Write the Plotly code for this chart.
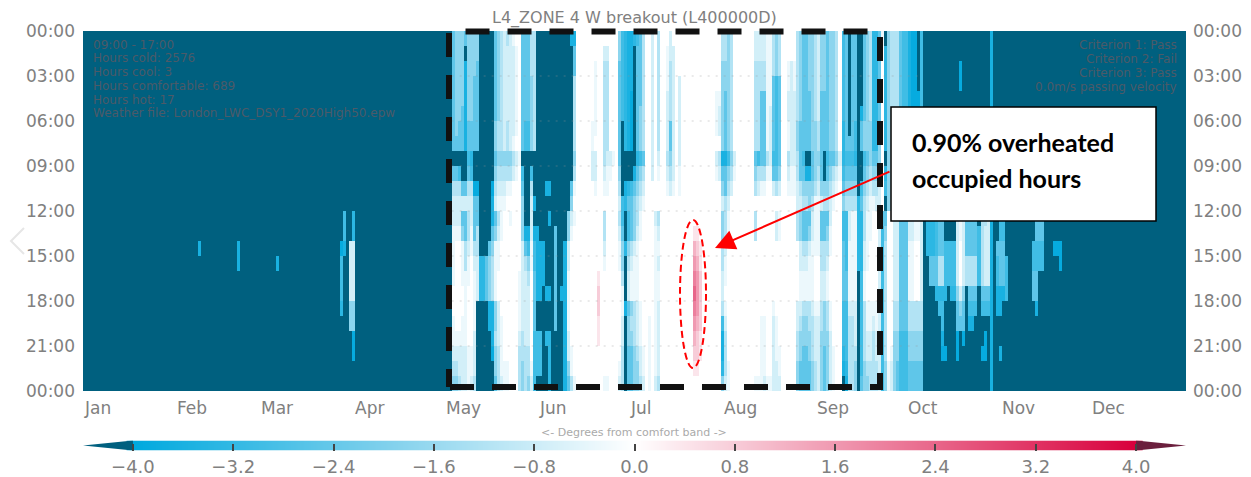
import plotly.graph_objects as go

W, H = 1251, 477
MONTHS = ["Jan","Feb","Mar","Apr","May","Jun","Jul","Aug","Sep","Oct","Nov","Dec"]
MONTH_START_DAY = [0,31,59,90,120,151,181,212,243,273,304,334]
HOUR_TICKS = [0,3,6,9,12,15,18,21,24]
HOUR_LABELS = ["00:00","03:00","06:00","09:00","12:00","15:00","18:00","21:00","00:00"]
BAR_TICKS = [-4.0,-3.2,-2.4,-1.6,-0.8,0.0,0.8,1.6,2.4,3.2,4.0]
LEFT_NOTE = ["09:00 - 17:00","Hours cold: 2576","Hours cool: 3","Hours comfortable: 689","Hours hot: 17","Weather file: London_LWC_DSY1_2020High50.epw"]
RIGHT_NOTE = ["Criterion 1: Pass","Criterion 2: Fail","Criterion 3: Pass","0.0m/s passing velocity"]

# Degrees from the comfort band, read per character (one char per hour)
LEVEL = {"0":0,"1":-.3,"2":-.7,"3":-1.2,"4":-1.8,"5":-2.5,"6":-3.0,"7":-3.3,"8":-3.6,"9":-3.9,"D":-4.5,
         "p":.4,"q":.8,"r":1.2,"s":1.6,"t":2.0,"u":2.4}
# (day of year from 0, hour string: 00-07 08-11 12-17 18-23); unlisted days are all "D"
COOL_SEASON = [
 (38,"DDDDDDDD DDDD DD8DDD DDDDDD"),(51,"DDDDDDDD DDDD DD88DD DDDDDD"),(64,"DDDDDDDD DDDD DDD8DD DDDDDD"),
 (85,"DDDDDDDD DDDD DD9666 7DDDDD"),(86,"DDDDDDDD DDDD 668DDD DDDDDD"),
 (88,"DDDDDDDD DDDD DD2222 44DDDD"),(89,"DDDDDDDD DDDD 772222 4499DD"),
]
MAY_COLUMNS = [
 (122,"55555555 D532 211110 011234"),(123,"44444445 D532 210000 001234"),(124,"44444455 D632 210000 001223"),
 (125,"44444555 DD52 541110 011222"),(126,"5D888888 DD52 553311 111222"),(127,"44444455 6532 332110 000111"),
 (128,"44444455 7632 211000 000112"),(129,"44455555 DD95 553211 112223"),(130,"44555555 DD95 533222 DDDDDD"),
 (131,"DDDDDDDD DDDD DDD777 DDDDDD"),(132,"DDDDDDDD DDDD DDD777 DDDDDD"),(133,"DDDDDDDD DDDD DDD555 DDDDDD"),
 (134,"DDDDDDDD DDDD DD5444 88DDDD"),(135,"DDDDDDDD DD98 854333 8889DD"),(136,"55555544 5432 541111 443445"),
 (137,"44444433 4321 321100 222333"),(138,"33333333 4321 110000 011112"),(139,"22222222 4321 000000 000011"),
 (140,"32222233 4310 000000 000011"),(141,"22222222 4310 100000 000000"),(142,"12222221 3200 000000 000000"),
 (143,"01111110 2100 000000 000000"),(144,"00000000 1000 000011 112333"),(145,"55555555 D654 442222 223344"),
 (146,"55555566 DDDD D85322 222333"),(147,"55555566 DDDD D86432 222334"),(148,"33344444 D632 221100 000012"),
 (149,"33333333 DDD8 D86655 556666"),(150,"DDDDDDDD DDDD D88888 DD666D"),(151,"DDDDDDDD DDDD DD8888 DD666D"),
]
JUNE_COLUMNS = [
 (152,"DDDDDDDD DDDD DD888D DDDDDD"),(153,"DDDDDDDD DD8D DDDDD8 DD7DDD"),(154,"DDDDDDDD DD8D 8DDDD8 DD7777"),
 (155,"DDDDDDDD DDDD DDDDDD DDDDDD"),(156,"DDDDDDDD DDDD D55555 55DDDD"),(157,"DDDDDDDD DDDD DDDDDD DDDDDD"),
 (158,"DDDDDDDD DDDD DDDDD8 DDDDDD"),(159,"DDDDDDDD DDDD DD8888 888888"),(160,"DDDDDDDD DDDD 442211 112245"),
 (161,"8DDDDDDD DD54 210000 000113"),(162,"85533333 4310 100000 000001"),(168,"00000011 2200 000000 000000"),
 (169,"00111110 2210 000000 000000"),(170,"00000000 0000 0000pq qpp000"),(172,"02333333 3210 332100 000001"),
 (173,"02333333 2110 000000 000001"),(174,"00000000 2100 000000 000000"),(175,"00000000 1000 000000 000000"),
 (177,"44555555 5432 321100 000012"),(178,"666666DD DDD6 654431 122333"),(179,"77777777 DD87 DD7DDD 8DDDDD"),
 (180,"88888888 DD75 664322 544555"),
]
JULY_COLUMNS = [
 (181,"88889999 DD65 553211 434555"),(182,"7DDDDDDD D854 442111 333444"),(183,"65555555 7543 321111 222344"),
 (184,"55555444 6432 110000 111223"),(185,"33333333 5321 000000 000112"),(187,"00000000 0000 000000 011111"),
 (188,"22222222 2200 000000 000000"),(189,"00000000 0000 211111 111112"),(190,"33333333 2100 321211 222223"),
 (193,"01112222 3210 000000 000000"),(194,"22333355 4320 000000 000000"),(195,"02222222 2210 000000 000000"),
 (197,"00022222 2110 000000 000000"),(202,"00000000 0000 0prstu tsrqp0"),(203,"00000000 0000 0pqrss srqqp0"),
 (204,"00000000 0000 00ppqq qqpp00"),(209,"00001110 2100 000000 000000"),(210,"00001220 3200 000000 000000"),
 (211,"33444444 8542 443322 368874"),
]
AUGUST_COLUMNS = [
 (212,"33445555 8553 332110 123332"),(213,"44444444 6432 110000 000011"),(214,"33333333 4320 000000 000000"),
 (215,"00000000 2100 000000 000000"),(222,"22333333 5430 330000 000001"),(223,"22333333 6320 000000 000001"),
 (224,"22335555 5310 000000 011111"),(225,"22335555 5310 000000 011112"),(226,"11111111 3100 000000 000001"),
 (227,"11111222 2100 000000 000001"),(228,"33355555 6520 000000 122222"),(229,"44466666 6530 220000 011122"),
 (230,"33355555 5420 110000 000112"),(233,"00112211 3210 000000 000000"),(234,"00222222 2110 000000 000000"),
 (235,"00112222 2110 000000 000000"),(236,"33333344 3322 330000 223344"),(237,"44444455 5532 442211 234455"),
 (238,"55555555 6543 553211 344555"),(239,"55555555 D843 553211 344555"),(240,"44445555 D844 542111 334455"),
 (241,"44444444 5543 221111 233344"),(242,"33333344 4431 111000 122233"),
]
SEPTEMBER_COLUMNS = [
 (243,"22222233 4321 111000 122222"),(244,"44445555 5542 553322 334444"),(245,"44445555 DD43 553322 444555"),
 (246,"55555555 6543 543211 334444"),(247,"44444444 5432 211000 112222"),(248,"44444444 5321 000000 000111"),
 (249,"33333333 4210 000000 000000"),(250,"00000000 2100 000000 000000"),(251,"66666677 7654 665555 66678D"),
 (252,"55555555 6543 666655 666678"),(253,"DDDDDDD5 6543 221111 233333"),(254,"55555555 6543 111111 233333"),
 (255,"55555566 7543 111111 222344"),(256,"DDDDDDDD DDD7 7777DD DDDDDD"),(257,"DDDDD855 DD65 777766 666665"),
 (258,"55555544 6543 332211 333344"),(259,"44444444 5432 111100 112234"),(260,"33333344 4321 110000 112233"),
 (261,"77777777 5431 000000 123333"),(262,"77777777 5432 000000 112233"),(263,"55555544 4322 222222 222222"),
 (264,"10000000 0000 566666 666666"),(265,"D7777777 D76D 543333 333344"),(266,"44444444 4444 000000 000011"),
 (267,"33333333 3333 000000 000122"),(268,"33333333 3333 222222 334444"),(269,"33333333 3333 222222 334455"),
 (270,"55555555 5555 555555 556666"),(271,"66666666 6666 555555 556666"),(272,"66666666 6666 555555 556666"),
]
AUTUMN_COLUMNS = [
 (273,"88888888 8888 221111 334455"),(274,"99999999 9999 221111 334455"),(275,"99999999 9999 110000 334455"),
 (276,"DDDD9999 9999 110000 334455"),(277,"66666666 6666 222222 334455"),
 (279,"DDDDDDDD DDDD 777DDD DDDDDD"),(280,"DDDDDDDD DDDD 77755D DDDDDD"),(281,"DDDDDDDD DDDD 77755D DDDDDD"),
 (282,"DDDDDDDD DDDD 666557 DDDDDD"),(283,"DDDDDDDD DDDD 555337 6DDDDD"),(284,"DDDDDDDD DDDD 555337 6689DD"),
 (285,"DDDDDDDD DDDD DD6667 DDD9DD"),(286,"DDDDDDDD DDDD DD666D DDDDDD"),(287,"DDDDDDDD DDDD DD6667 DDDDDD"),
 (288,"DDDDDDDD DDDD DD6667 DDDDDD"),(289,"DDDDDDDD DDDD 222224 5599DD"),(290,"DD99DDDD DDDD 110002 45DDDD"),
 (291,"DDDDDDDD DDDD 222224 559DDD"),(292,"DDDDDDDD DDDD 55533D DDDDDD"),(293,"DDDDDDDD DDDD 555335 68DDDD"),
 (294,"DDDDDDDD DDDD 555335 68DDDD"),(295,"DDDDDDDD DDDD 555335 6DDDDD"),(296,"DDDDDDDD DDDD D6666D DDDDDD"),
 (297,"DDDDDDDD DDDD 333335 6DD9DD"),(298,"DDDDDDDD DDDD 322225 6D99DD"),(299,"DDDDDDDD DDDD 222225 6DDDDD"),
 (300,"88888888 8888 888888 888888"),(302,"DDDDDDDD DDDD DD5668 8DDDDD"),(303,"DDDDDDDD DDDD 665558 8DD8DD"),
 (304,"DDDDDDDD DDDD 665558 DDDDDD"),(305,"DDDDDDDD DDDD DDD666 DDDDDD"),(314,"DDDDDDDD DDDD DD6655 DDDDDD"),
 (315,"DDDDDDDD DDDD 556655 8DDDDD"),(316,"DDDDDDDD DDDD 5566DD DDDDDD"),(317,"DDDDDDDD DDDD 5566DD DDDDDD"),
 (321,"DDDDDDDD DDDD DD9DDD DDDDDD"),(322,"DDDDDDDD DDDD DD9DDD DDDDDD"),(323,"DDDDDDDD DDDD DD99DD DDDDDD"),
]
WHITE_DAYS = [163,164,165,166,167,171,176,186,191,192,196,198,199,200,201,205,206,207,208,
              216,217,218,219,220,221,231,232]

# Styling
DARK, CYAN, RED, MAROON = "#00607f", "#00a9de", "#d8003c", "#6b1f3d"
ZMIN, ZMAX = -4.5, 4.5
def nrm(v): return (v - ZMIN) / (ZMAX - ZMIN)
SCALE = [[0,DARK],[nrm(-4.001),DARK],[nrm(-4),CYAN],[nrm(-2),"#7fd0ec"],[nrm(0),"#ffffff"],
         [nrm(2),"#ec7f9d"],[nrm(4),RED],[nrm(4.001),MAROON],[1,MAROON]]
GREY = "#808080"
FONT = "DejaVu Sans"

def px(x): return x / W
def py(y): return 1 - y / H
X0, X1, Y0, Y1 = 83, 1186, 31, 391

z = [[LEVEL["D"]] * 365 for _ in range(24)]
for d in WHITE_DAYS:
    for h in range(24):
        z[h][d] = 0
for group in (COOL_SEASON, MAY_COLUMNS, JUNE_COLUMNS, JULY_COLUMNS, AUGUST_COLUMNS, SEPTEMBER_COLUMNS, AUTUMN_COLUMNS):
    for d, s in group:
        for h, c in enumerate(s.replace(" ", "")):
            z[h][d] = LEVEL[c]

fig = go.Figure()
fig.add_trace(go.Heatmap(z=z, x=[d + .5 for d in range(365)], y=[h + .5 for h in range(24)],
                         zmin=ZMIN, zmax=ZMAX, colorscale=SCALE, showscale=False, hoverinfo="skip", xgap=0, ygap=0))
# invisible trace that carries the right-hand hour axis
fig.add_trace(go.Scatter(x=[0], y=[0], yaxis="y3", mode="markers", marker=dict(opacity=0), showlegend=False, hoverinfo="skip"))

# colour bar
BAR_VALUES = [i / 10 for i in range(-40, 41)]
fig.add_trace(go.Heatmap(z=[BAR_VALUES], x=BAR_VALUES, y=[0.5], xaxis="x2", yaxis="y2", zmin=ZMIN, zmax=ZMAX,
                         colorscale=SCALE, showscale=False, hoverinfo="skip", zsmooth="best"))
fig.add_trace(go.Scatter(x=[-4,-4.4,-4,-4], y=[0,.5,1,0], xaxis="x2", yaxis="y2", mode="lines", fill="toself",
                         fillcolor=DARK, line=dict(width=0), showlegend=False, hoverinfo="skip"))
fig.add_trace(go.Scatter(x=[4,4.4,4,4], y=[0,.5,1,0], xaxis="x2", yaxis="y2", mode="lines", fill="toself",
                         fillcolor=MAROON, line=dict(width=0), showlegend=False, hoverinfo="skip"))

def note(text, x, y, size, color, family=FONT, anchor="left"):
    return dict(text=text, x=px(x), y=py(y), xref="paper", yref="paper", xanchor=anchor, yanchor="middle",
                showarrow=False, borderpad=0, font=dict(size=size, color=color, family=family))

ann = []
for m, d in zip(MONTHS, MONTH_START_DAY):
    ann.append(dict(text=m, x=max(d - 0.3, 0), xref="x", y=py(408), yref="paper", xanchor="left", yanchor="middle", showarrow=False,
                    borderpad=0, font=dict(size=17, color=GREY, family=FONT)))
ann.append(note("L4_ZONE 4 W breakout (L400000D)", 634, 18, 16, GREY, anchor="center"))
ann.append(note("&lt;- Degrees from comfort band -&gt;", 634, 432, 11, "#aaaaaa", anchor="center"))
for i, t in enumerate(LEFT_NOTE):
    ann.append(note(t, 92, 44.5 + i * 13.8, 12, "#4c5a68"))
for i, t in enumerate(RIGHT_NOTE):
    ann.append(note(t, 1178, 45 + i * 14, 12, "#4c5a68", anchor="right"))
ann.append(note("<b>0.90% overheated</b>", 911, 142, 25, "black", family="Lato"))
ann.append(note("<b>occupied hours</b>", 911, 178, 25, "black", family="Lato"))
ann.append(dict(text="", x=px(715), y=py(248), xref="paper", yref="paper", ax=176, ay=-77, axref="pixel", ayref="pixel",
                showarrow=True, arrowhead=2, arrowsize=2, arrowwidth=2, arrowcolor="#ff0000"))

def seg(pts):
    return "M " + " L ".join(f"{px(x):.5f} {py(y):.5f}" for x, y in pts)
shapes = []
for h in HOUR_TICKS[1:-1]:
    shapes.append(dict(type="line", xref="x", yref="y", x0=122, x1=278, y0=h, y1=h, layer="above",
                       line=dict(color="rgba(150,150,150,0.4)", width=1, dash="2px,6px")))
shapes.append(dict(type="path", xref="paper", yref="paper", layer="above",
                   path=seg([(450,387),(880,387),(880,31.5),(449,31.5),(449,387)]),
                   line=dict(color="#111111", width=6, dash="24px,18px")))
shapes.append(dict(type="circle", xref="paper", yref="paper", x0=px(680), x1=px(706), y0=py(368), y1=py(220), layer="above",
                   line=dict(color="#ff0000", width=2, dash="7px,4px")))
shapes.append(dict(type="rect", xref="paper", yref="paper", x0=px(891), x1=px(1156), y0=py(221), y1=py(107), layer="above",
                   fillcolor="white", line=dict(color="black", width=1.5)))
shapes.append(dict(type="path", xref="paper", yref="paper", layer="above", path=seg([(24,228),(11,241),(24,254)]),
                   line=dict(color="#e6e6e6", width=2)))

tick_font = dict(size=17, color=GREY, family=FONT)
fig.update_layout(
    width=W, height=H, margin=dict(l=0, r=0, t=0, b=0, pad=0, autoexpand=False), paper_bgcolor="white", plot_bgcolor="white",
    showlegend=False, annotations=ann, shapes=shapes,
    xaxis=dict(domain=[px(X0), px(X1)], range=[0, 365], showticklabels=False, showgrid=False, zeroline=False, ticks=""),
    yaxis=dict(domain=[py(Y1), py(Y0)], range=[24, 0], tickvals=HOUR_TICKS, ticktext=HOUR_LABELS, showgrid=False,
               zeroline=False, ticks="", tickfont=tick_font, ticklabelstandoff=7),
    yaxis3=dict(overlaying="y", side="right", range=[24, 0], tickvals=HOUR_TICKS, ticktext=HOUR_LABELS, showgrid=False,
                zeroline=False, ticks="", tickfont=tick_font, anchor="x", ticklabelstandoff=6),
    xaxis2=dict(domain=[px(X0), px(X1)], range=[-4.398, 4.398], tickvals=BAR_TICKS, tickformat=".1f", anchor="y2",
                showgrid=False, zeroline=False, ticks="inside", ticklen=7, tickcolor="#444444", tickwidth=1.5,
                tickfont=dict(size=18, color=GREY, family=FONT), ticklabelstandoff=3),
    yaxis2=dict(domain=[py(450.5), py(440.5)], range=[0, 1], visible=False, anchor="x2"),
)
fig.write_html("out.html", config={"displayModeBar": False},
               post_script="document.body.style.margin='0';document.documentElement.style.overflow='hidden';")
